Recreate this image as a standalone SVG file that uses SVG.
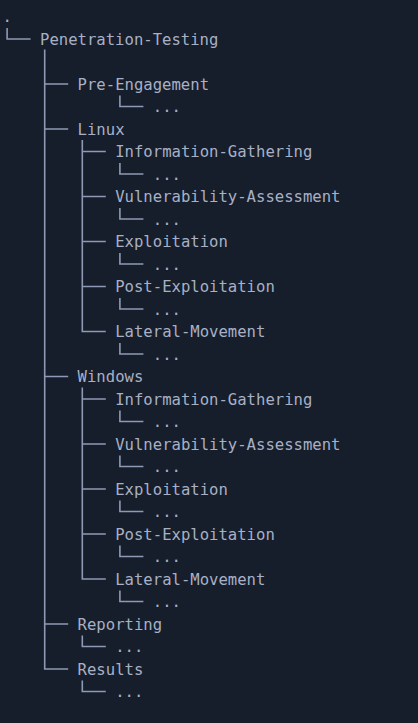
<svg xmlns="http://www.w3.org/2000/svg" width="418" height="723" viewBox="0 0 418 723">
<style>
text{font-family:"DejaVu Sans Mono","Liberation Mono",monospace;font-size:15.6px;fill:#a8b0c6}
.c path{fill:none;stroke:#8e9ab5;stroke-width:1.6}
</style>
<rect width="418" height="723" fill="#161e2b"/>
<g class="c" id="connectors">
<path d="M7.1 28V39H30.6"/>
<path d="M44.7 49.5V669H68.2"/>
<path d="M44.7 84H68.2M44.7 129H68.2M44.7 376.5H68.2M44.7 624H68.2"/>
<path d="M119.9 95.5V106.5H143.4"/>
<path d="M82.3 140V331.5H105.8M82.3 151.5H105.8M82.3 196.5H105.8M82.3 241.5H105.8M82.3 286.5H105.8"/>
<path d="M119.9 163V174H143.4M119.9 208V219H143.4M119.9 253V264H143.4M119.9 298V309H143.4M119.9 343V354H143.4"/>
<path d="M82.3 387.5V579H105.8M82.3 399H105.8M82.3 444H105.8M82.3 489H105.8M82.3 534H105.8"/>
<path d="M119.9 410.5V421.5H143.4M119.9 455.5V466.5H143.4M119.9 500.5V511.5H143.4M119.9 545.5V556.5H143.4M119.9 590.5V601.5H143.4"/>
<path d="M82.3 635.5V646.5H105.8M82.3 680.5V691.5H105.8"/>
</g>
<g id="root"><text x="2.4" y="22">.</text></g>
<g id="penetration-testing"><text x="40" y="44.5">Penetration-Testing</text></g>
<g id="pre-engagement"><text x="77.6" y="89.5">Pre-Engagement</text><text x="152.8" y="112">...</text></g>
<g id="linux"><text x="77.6" y="134.5">Linux</text></g>
<g id="linux-info"><text x="115.2" y="157">Information-Gathering</text><text x="152.8" y="179.5">...</text></g>
<g id="linux-vuln"><text x="115.2" y="202">Vulnerability-Assessment</text><text x="152.8" y="224.5">...</text></g>
<g id="linux-exploit"><text x="115.2" y="247">Exploitation</text><text x="152.8" y="269.5">...</text></g>
<g id="linux-post"><text x="115.2" y="292">Post-Exploitation</text><text x="152.8" y="314.5">...</text></g>
<g id="linux-lateral"><text x="115.2" y="337">Lateral-Movement</text><text x="152.8" y="359.5">...</text></g>
<g id="windows"><text x="77.6" y="382">Windows</text></g>
<g id="windows-info"><text x="115.2" y="404.5">Information-Gathering</text><text x="152.8" y="427">...</text></g>
<g id="windows-vuln"><text x="115.2" y="449.5">Vulnerability-Assessment</text><text x="152.8" y="472">...</text></g>
<g id="windows-exploit"><text x="115.2" y="494.5">Exploitation</text><text x="152.8" y="517">...</text></g>
<g id="windows-post"><text x="115.2" y="539.5">Post-Exploitation</text><text x="152.8" y="562">...</text></g>
<g id="windows-lateral"><text x="115.2" y="584.5">Lateral-Movement</text><text x="152.8" y="607">...</text></g>
<g id="reporting"><text x="77.6" y="629.5">Reporting</text><text x="115.2" y="652">...</text></g>
<g id="results"><text x="77.6" y="674.5">Results</text><text x="115.2" y="697">...</text></g>
</svg>
